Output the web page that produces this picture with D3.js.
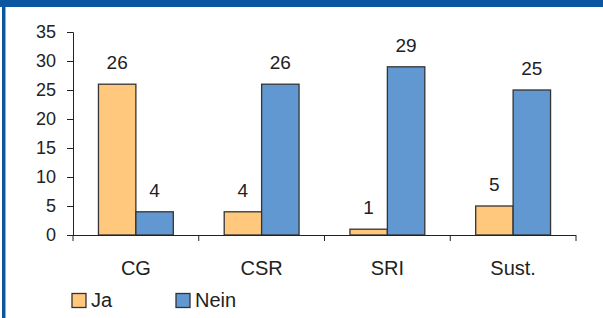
<!DOCTYPE html>
<html>
<head>
<meta charset="utf-8">
<script src="https://cdn.jsdelivr.net/npm/d3@7"></script>
<style>
  body { margin: 0; background: #fff; }
  svg { display: block; font-family: "Liberation Sans", Arial, sans-serif; }
</style>
</head>
<body>
<svg width="603" height="318"></svg>
<script>
const categories = ["CG", "CSR", "SRI", "Sust."];
const seriesNames = ["Ja", "Nein"];
const jaValues = [26, 4, 1, 5];
const neinValues = [4, 26, 29, 25];
const yTicks = [0, 5, 10, 15, 20, 25, 30, 35];
const colors = ["#ffc87d", "#6198d1"];

const data = categories.map((c, i) => ({ cat: c, values: [jaValues[i], neinValues[i]] }));

const svg = d3.select("svg");

// frame
svg.append("rect").attr("x", 0).attr("y", 0).attr("width", 603).attr("height", 7).attr("fill", "#0b55a1");
svg.append("rect").attr("x", 2).attr("y", 0).attr("width", 3).attr("height", 318).attr("fill", "#0b55a1");
svg.append("rect").attr("x", 5).attr("y", 7).attr("width", 1).attr("height", 311).attr("fill", "#7fb0e0");

const x = d3.scaleBand().domain(categories).range([73, 576]).padding(0);
const x1 = d3.scaleBand().domain(seriesNames).range([0, x.bandwidth()]).paddingInner(0).paddingOuter(0.68);
const y = d3.scaleLinear().domain([0, 35]).range([235, 32]);

// y axis
const yAxis = svg.append("g")
  .attr("transform", "translate(73,0)")
  .call(d3.axisLeft(y).tickValues(yTicks).tickSize(6).tickPadding(11));
yAxis.select(".domain").attr("stroke", "#222");
yAxis.selectAll(".tick line").attr("stroke", "#222");
yAxis.selectAll("text").attr("font-size", 18).attr("fill", "#222").attr("font-family", "Liberation Sans, Arial, sans-serif");

// bars
const groups = svg.selectAll(".grp")
  .data(data)
  .enter().append("g")
  .attr("class", "grp")
  .attr("transform", d => `translate(${x(d.cat)},0)`);

groups.selectAll("rect")
  .data(d => d.values.map((v, i) => ({ s: seriesNames[i], v: v, i: i })))
  .enter().append("rect")
  .attr("x", d => x1(d.s))
  .attr("y", d => y(d.v))
  .attr("width", x1.bandwidth())
  .attr("height", d => y(0) - y(d.v))
  .attr("fill", d => colors[d.i])
  .attr("stroke", "#333")
  .attr("stroke-width", 1.3);

groups.selectAll("text.val")
  .data(d => d.values.map((v, i) => ({ s: seriesNames[i], v: v })))
  .enter().append("text")
  .attr("class", "val")
  .attr("x", d => x1(d.s) + x1.bandwidth() / 2)
  .attr("y", d => y(d.v) - 15)
  .attr("text-anchor", "middle")
  .attr("font-size", 19)
  .attr("fill", "#222")
  .text(d => d.v);

// x axis
const xAxis = svg.append("g")
  .attr("transform", "translate(0,235)")
  .call(d3.axisBottom(x).tickSize(0).tickPadding(0).tickFormat(""));
xAxis.select(".domain").remove();
svg.append("line").attr("x1", 73).attr("x2", 576).attr("y1", 235.5).attr("y2", 235.5).attr("stroke", "#222");
svg.selectAll(".xtick")
  .data(categories.concat(["end"]))
  .enter().append("line")
  .attr("x1", (d, i) => i < categories.length ? x(d) : x.range()[1])
  .attr("x2", (d, i) => i < categories.length ? x(d) : x.range()[1])
  .attr("y1", 235)
  .attr("y2", 241)
  .attr("stroke", "#222");

svg.selectAll(".xlab")
  .data(categories)
  .enter().append("text")
  .attr("x", d => x(d) + x.bandwidth() / 2)
  .attr("y", 275)
  .attr("text-anchor", "middle")
  .attr("font-size", 20)
  .attr("fill", "#222")
  .text(d => d);

// legend
const legend = svg.selectAll(".leg")
  .data(seriesNames)
  .enter().append("g")
  .attr("transform", (d, i) => `translate(${72 + i * 104},293.5)`);
legend.append("rect")
  .attr("width", 14).attr("height", 14)
  .attr("fill", (d, i) => colors[i])
  .attr("stroke", "#333").attr("stroke-width", 1.3);
legend.append("text")
  .attr("x", 19).attr("y", 13.5)
  .attr("font-size", 20)
  .attr("fill", "#222")
  .text(d => d);
</script>
</body>
</html>
